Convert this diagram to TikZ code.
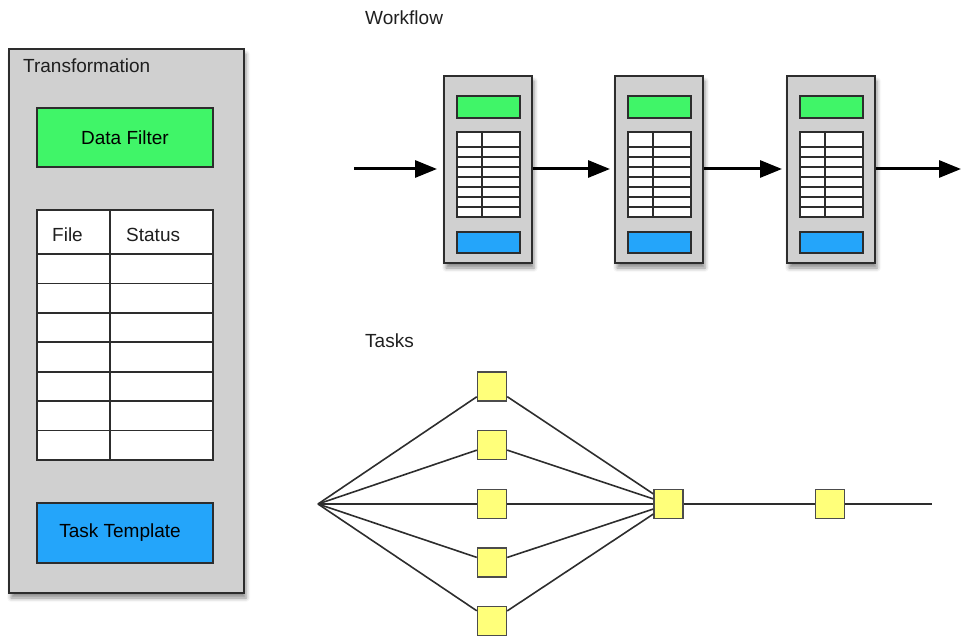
\documentclass[tikz,border=0pt]{standalone}
\usepackage{fontspec}
\setmainfont{Liberation Sans}
\usetikzlibrary{arrows.meta,shadows.blur}

\definecolor{panelgray}{RGB}{208,208,208}
\definecolor{filtergreen}{RGB}{64,245,104}
\definecolor{templateblue}{RGB}{36,165,250}
\definecolor{taskyellow}{RGB}{255,255,122}
\definecolor{edgegray}{RGB}{45,45,45}

\tikzset{
  panel/.style={draw=edgegray, line width=2pt, fill=panelgray, inner sep=0pt,
    blur shadow={shadow xshift=2pt, shadow yshift=-5pt, shadow blur radius=4pt, shadow opacity=45}},
  filterbar/.style={draw=edgegray, line width=1.8pt, fill=filtergreen, inner sep=0pt},
  templatebar/.style={draw=edgegray, line width=1.8pt, fill=templateblue, inner sep=0pt},
  grid/.style={draw=edgegray, line width=1.6pt},
  label/.style={anchor=base west, inner sep=0pt, text=black!88},
  flow/.style={line width=3pt, -{Triangle[length=22pt,width=17pt]}},
  task/.style={draw=edgegray!85, line width=1.5pt, fill=taskyellow, minimum size=29pt, inner sep=0pt},
  link/.style={draw=edgegray, line width=1.6pt}
}

\begin{document}
\begin{tikzpicture}[x=1pt, y=-1pt, font=\fontsize{19}{22}\selectfont]
  \useasboundingbox (0,0) rectangle (961,636);

  % transformation panel
  \begin{scope}
    \node[panel, anchor=north west, minimum width=235pt, minimum height=544pt] (trans) at (8,48) {};
    \node[label] (transtitle) at (23,73) {Transformation};
    \node[filterbar, minimum width=176pt, minimum height=59pt] (filter) at (125,137.5) {Data Filter};

    \draw[grid, fill=white] (37,210) rectangle (213,460);
    \draw[grid] (110,210) -- (110,460);
    \foreach \k in {0,...,6}
      \draw[grid] (37,{254+\k*29.43}) -- (213,{254+\k*29.43});
    \node[label] (filehead) at (52,242) {File};
    \node[label] (statushead) at (126,242) {Status};

    \node[templatebar, minimum width=176pt, minimum height=60pt] (template) at (125,533) {\hspace*{-10pt}Task Template};
  \end{scope}

  % workflow stages
  \begin{scope}
    \node[label] (wftitle) at (365,25) {Workflow};
    \foreach \i/\x in {1/488,2/659,3/831} {
      \node[panel, minimum width=88pt, minimum height=187pt] (stage\i) at (\x,169.5) {};
      \node[filterbar, minimum width=63pt, minimum height=22pt] (stage\i-filter) at ({\x+0.5},107) {};
      \draw[grid, line width=1.4pt, fill=white] ({\x-31},132) rectangle ({\x+32},217);
      \draw[grid, line width=1.4pt] ({\x-6},132) -- ({\x-6},217);
      \foreach \y in {147,157,...,207}
        \draw[grid, line width=1.4pt] ({\x-31},\y) -- ({\x+32},\y);
      \node[templatebar, minimum width=63pt, minimum height=21pt] (stage\i-template) at ({\x+0.5},242.5) {};
    }
    \coordinate (wfin) at (354,169);
    \coordinate (wfout) at (961,169);
    \draw[flow, shorten >=6pt] (wfin) -- (stage1.west |- wfin);
    \draw[flow, shorten >=4pt] (stage1.east |- wfin) -- (stage2.west |- wfin);
    \draw[flow, shorten >=4pt] (stage2.east |- wfin) -- (stage3.west |- wfin);
    \draw[flow] (stage3.east |- wfin) -- (wfout);
  \end{scope}

  % tasks graph
  \begin{scope}
    \node[label] (tasktitle) at (365,347) {Tasks};
    \coordinate (fork) at (318,504);
    \foreach \i/\y in {1/386.5,2/445,3/504,4/562.5,5/621}
      \node[task] (task\i) at (492,\y) {};
    \node[task] (join) at (668.5,504) {};
    \node[task] (next) at (830,504) {};
    \coordinate (tail) at (932,504);
    \foreach \i in {1,...,5}
      \draw[link] (fork) -- (task\i) -- (join);
    \draw[link] (join) -- (next) -- (tail);
  \end{scope}
\end{tikzpicture}
\end{document}
